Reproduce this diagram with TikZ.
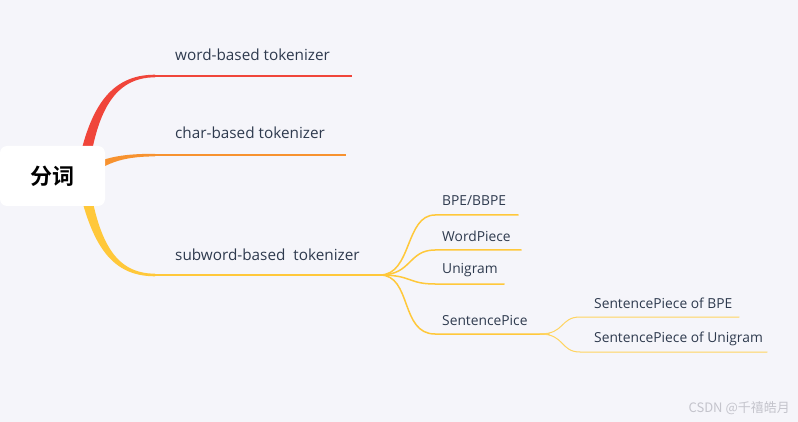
\documentclass[tikz,border=0pt]{standalone}
\usepackage{fontspec}
\setmainfont{Open Sans}
\newfontfamily\cjk{Noto Sans CJK SC}
\newfontfamily\cjkb{Noto Sans CJK SC Bold}
\definecolor{bg}{HTML}{F5F5FA}
\definecolor{cred}{HTML}{F0453A}
\definecolor{corange}{HTML}{F7922F}
\definecolor{cyellow}{HTML}{FFC83A}
\definecolor{cyellow2}{HTML}{FFD460}
\definecolor{txt}{HTML}{2E3A4E}
\definecolor{wm}{HTML}{C4C4CC}
\tikzset{
  lab/.style={anchor=west,inner sep=0pt,text=txt,font=\fontsize{15.3}{17}\selectfont},
  sublab/.style={anchor=west,inner sep=0pt,text=txt,font=\fontsize{13.8}{15}\selectfont},
  subline/.style={draw=cyellow,line width=1.5pt,line cap=round},
  subsubline/.style={draw=cyellow2,line width=1pt,line cap=round},
}
\begin{document}
\begin{tikzpicture}[x=1pt,y=-1pt]
\fill[bg] (0,0) rectangle (798,422);
\useasboundingbox (0,0) rectangle (798,422);
% coordinates
\coordinate (c) at (80,176);
\coordinate (rA) at (155,76);  \coordinate (rB) at (352,76);
\coordinate (oA) at (155,155); \coordinate (oB) at (346,155);
\coordinate (yA) at (155,275); \coordinate (yB) at (390,275);
\coordinate (f) at (380,275);
% tapered main branches
\fill[cred] (76,176) .. controls (88,108) and (110,74.7) .. (155,74.7) -- (155,77.3) .. controls (114,77.5) and (96,112) .. (88,176) -- cycle;
\draw[cred,line width=1.8pt] (rA) -- (rB);
\fill[corange] (80,172) .. controls (100,158) and (118,153.8) .. (155,153.8) -- (155,156.4) .. controls (120,156.5) and (104,164) .. (84,180) -- cycle;
\draw[corange,line width=1.8pt] (oA) -- (oB);
\fill[cyellow] (76,176) .. controls (90,240) and (108,276.3) .. (155,276.3) -- (155,273.7) .. controls (114,273.5) and (98,240) .. (88,176) -- cycle;
\draw[cyellow,line width=1.8pt] (yA) -- (yB);
% sub-branches
\coordinate (b1) at (435,215); \coordinate (b1e) at (518,215);
\coordinate (b2) at (435,250); \coordinate (b2e) at (521,250);
\coordinate (b3) at (435,284); \coordinate (b3e) at (504,284);
\coordinate (b4) at (435,334); \coordinate (b4e) at (549,334);
\draw[subline] (f) .. controls (412,275) and (405,215) .. (b1) -- (b1e);
\draw[subline] (f) .. controls (412,275) and (408,250) .. (b2) -- (b2e);
\draw[subline] (f) .. controls (412,275) and (408,284) .. (b3) -- (b3e);
\draw[subline] (f) .. controls (412,275) and (400,334) .. (b4) -- (b4e);
% sub-sub branches
\coordinate (g) at (540,334);
\coordinate (s1) at (580,317); \coordinate (s1e) at (739,317);
\coordinate (s2) at (580,352); \coordinate (s2e) at (767,352);
\draw[subsubline] (g) .. controls (565,334) and (560,317) .. (s1) -- (s1e);
\draw[subsubline] (g) .. controls (565,334) and (560,352) .. (s2) -- (s2e);
% root
\node[fill=white,rounded corners=7pt,minimum width=105pt,minimum height=60pt,inner sep=0pt,font=\cjkb\fontsize{22}{24}\selectfont,text=black] (root) at (52.5,176) {分词};
% labels
\node[lab] (l1) at (175,55) {word-based tokenizer};
\node[lab] (l2) at (175,133) {char-based tokenizer};
\node[lab] (l3) at (175,255) {subword-based\ \ tokenizer};
\node[sublab] (s1l) at (442,201) {BPE/BBPE};
\node[sublab] (s2l) at (442,236) {WordPiece};
\node[sublab] (s3l) at (442,270) {Unigram};
\node[sublab] (s4l) at (442,321) {SentencePice};
\node[sublab] (t1l) at (594,303) {SentencePiece of BPE};
\node[sublab] (t2l) at (594,339) {SentencePiece of Unigram};
\node[anchor=east,inner sep=0pt,text=wm,font=\cjk\fontsize{13}{14}\selectfont] (wmk) at (790,408) {CSDN @千禧皓月};
\end{tikzpicture}
\end{document}
